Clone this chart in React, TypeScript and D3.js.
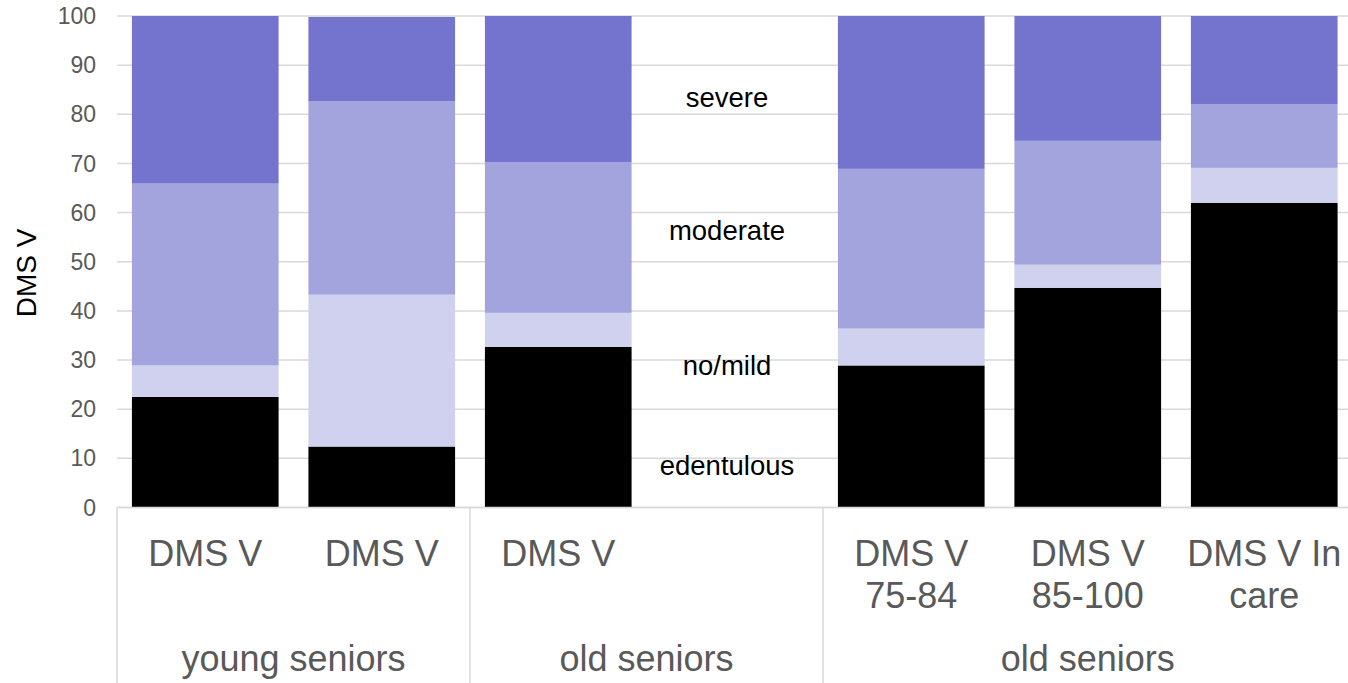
import React from "react";
import * as d3 from "d3";

const categories = ["c1", "c2", "c3", "gap", "c5", "c6", "c7"];
const categoryLabels: string[][] = [["DMS V"], ["DMS V"], ["DMS V"], [], ["DMS V", "75-84"], ["DMS V", "85-100"], ["DMS V In", "care"]];
const seriesNames = ["edentulous", "no/mild", "moderate", "severe"];
const edentulous = [22.5, 12.4, 32.7, 0, 28.9, 44.7, 62.0];
const noMild = [6.4, 30.9, 6.9, 0, 7.5, 4.7, 7.1];
const moderate = [37.0, 39.4, 30.7, 0, 32.5, 25.2, 13.0];
const severe = [34.1, 17.1, 29.7, 0, 31.1, 25.4, 17.9];
const colors = ["#000000", "#d0d0ef", "#a3a3de", "#7474cf"];
const yTicks = [0, 10, 20, 30, 40, 50, 60, 70, 80, 90, 100];
const groups = [
  { label: "young seniors", from: 0, to: 2 },
  { label: "old seniors", from: 2, to: 4 },
  { label: "old seniors", from: 4, to: 7 },
];
const annotationValues = [8.5, 28.9, 56.3, 83.5];

export default function App() {
  const W = 1348, H = 683;
  const left = 117, right = 1352.5, top = 16, bottom = 507.5;
  const x = d3.scaleBand<string>().domain(categories).range([left, right]).paddingInner(0.169).paddingOuter(0.0845);
  const slot = d3.scaleBand<string>().domain(categories).range([left, right]).padding(0);
  const y = d3.scaleLinear().domain([0, 100]).range([bottom, top]);
  const table = categories.map((c, i) => ({
    cat: c,
    edentulous: edentulous[i],
    "no/mild": noMild[i],
    moderate: moderate[i],
    severe: severe[i],
  }));
  const stacked = d3.stack<any>().keys(seriesNames)(table);
  const grey = "#595959";
  const gridColor = "#d9d9d9";
  const font = "Liberation Sans, Arial, sans-serif";
  const sep = (i: number) => (i >= categories.length ? right : (slot(categories[i]) as number));

  return (
    <svg width={W} height={H} style={{ position: "absolute", left: 0, top: 0, background: "#fff" }} fontFamily={font}>
      {yTicks.map((t) => (
        <g key={t}>
          <line x1={left} x2={W} y1={y(t)} y2={y(t)} stroke={gridColor} strokeWidth={1.5} />
          <text x={96} y={y(t)} dy="0.35em" textAnchor="end" fontSize={23} fill={grey}>{t}</text>
        </g>
      ))}
      {stacked.map((s, si) => (
        <g key={s.key} fill={colors[si]}>
          {s.map((d, i) =>
            d[1] - d[0] > 0 ? (
              <rect key={i} x={x(categories[i])} width={x.bandwidth()} y={y(d[1])} height={y(d[0]) - y(d[1])} />
            ) : null
          )}
        </g>
      ))}
      {seriesNames.map((n, i) => (
        <text key={n} x={727} y={y(annotationValues[i])} dy="0.35em" textAnchor="middle" fontSize={27.5} fill="#000">{n}</text>
      ))}
      <line x1={left} x2={W} y1={bottom} y2={bottom} stroke={gridColor} strokeWidth={1.5} />
      {[0, 2, 4].map((i) => (
        <line key={i} x1={sep(i)} x2={sep(i)} y1={bottom} y2={H} stroke={gridColor} strokeWidth={1.5} />
      ))}
      {categories.map((c, i) => (
        <text key={c} x={(slot(c) as number) + slot.bandwidth() / 2} y={566} textAnchor="middle" fontSize={36} fill={grey}>
          {categoryLabels[i].map((l, li) => (
            <tspan key={li} x={(slot(c) as number) + slot.bandwidth() / 2} dy={li === 0 ? 0 : 42}>{l}</tspan>
          ))}
        </text>
      ))}
      {groups.map((g, i) => (
        <text key={i} x={(sep(g.from) + sep(g.to)) / 2} y={671} textAnchor="middle" fontSize={36} fill={grey}>{g.label}</text>
      ))}
      <text transform={`translate(36,273) rotate(-90)`} textAnchor="middle" fontSize={28} fill="#000">DMS V</text>
    </svg>
  );
}
